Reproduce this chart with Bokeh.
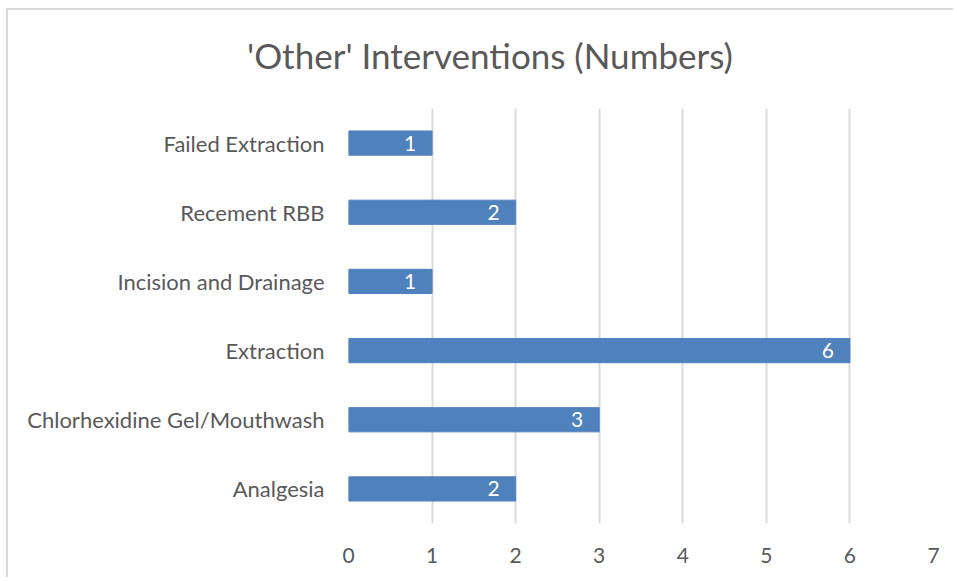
from bokeh.plotting import figure
from bokeh.models import ColumnDataSource, FactorRange, Range1d, Div
from bokeh.layouts import column
from bokeh.core.properties import value
from bokeh.embed import file_html
from bokeh.resources import INLINE

categories = ["Analgesia", "Chlorhexidine Gel/Mouthwash", "Extraction",
              "Incision and Drainage", "Recement RBB", "Failed Extraction"]
counts = [2, 3, 6, 1, 2, 1]
x_ticks = [0, 1, 2, 3, 4, 5, 6, 7]
title_text = "'Other' Interventions (Numbers)"

FONT = "Lato"
GRAY = "#595959"

src = ColumnDataSource(dict(cat=categories, val=counts, lab=[str(v) for v in counts]))

title_div = Div(
    text=('<div style="padding:28px 0 0 239px; font-family:Lato; font-size:35px; '
          'line-height:1; color:#595959; white-space:nowrap; margin:0">'
          + title_text + '</div>'),
    width=945, height=90, margin=0)

p = figure(width=945, height=477, output_backend="svg", toolbar_location=None,
           y_range=FactorRange(*categories), x_range=Range1d(0, 7),
           min_border_left=340, min_border_right=20, min_border_top=8,
           min_border_bottom=54, margin=0)
p.title = None

p.hbar(y="cat", right="val", left=0, height=0.35, source=src,
       fill_color="#4F81BD", line_color="#4F81BD")
p.text(x="val", y="cat", text="lab", source=src, text_align="right",
       text_baseline="middle", x_offset=-16, text_color="white",
       text_font=value(FONT), text_font_size="21px")

p.xaxis.ticker = x_ticks
p.xaxis.axis_line_color = None
p.xaxis.major_tick_line_color = None
p.xaxis.minor_tick_line_color = None
p.xaxis.major_tick_out = 0
p.xaxis.major_label_text_font = FONT
p.xaxis.major_label_text_font_size = "21px"
p.xaxis.major_label_text_color = GRAY
p.xaxis.major_label_standoff = 24

p.yaxis.axis_line_color = None
p.yaxis.major_tick_line_color = None
p.yaxis.minor_tick_line_color = None
p.yaxis.major_tick_out = 0
p.yaxis.major_label_text_font = FONT
p.yaxis.major_label_text_font_size = "22px"
p.yaxis.major_label_text_color = GRAY
p.yaxis.major_label_standoff = 24

p.xgrid.grid_line_color = "#D9D9D9"
p.xgrid.grid_line_width = 2
p.ygrid.grid_line_color = None
p.outline_line_color = None

layout = column(title_div, p, spacing=0,
                styles={"border-left": "2px solid #D9D9D9",
                        "border-top": "2px solid #D9D9D9",
                        "margin-top": "8px", "margin-left": "6px"})

open("out.html", "w").write(file_html(layout, INLINE))
